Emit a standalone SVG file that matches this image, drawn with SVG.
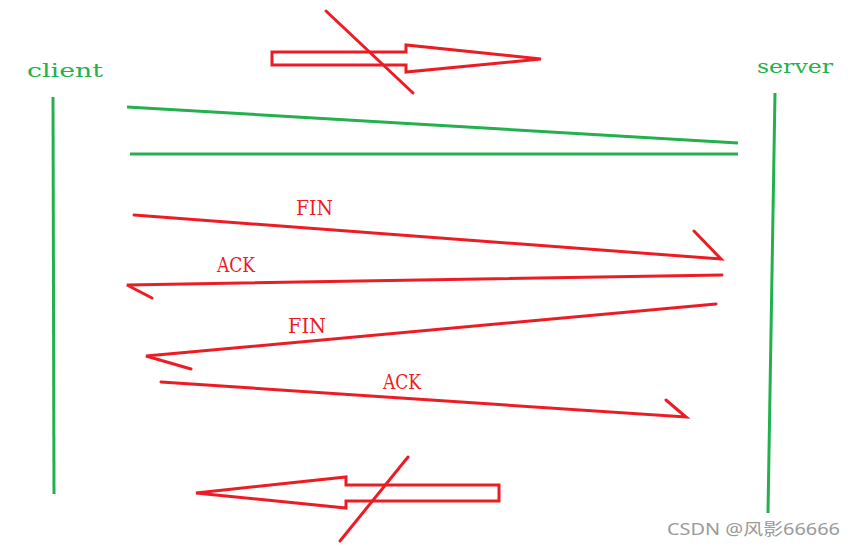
<svg xmlns="http://www.w3.org/2000/svg" width="856" height="547" viewBox="0 0 856 547">
<style>
.r{fill:none;stroke:#ED1C24;stroke-width:3;stroke-linecap:round;stroke-linejoin:miter}
.g{fill:none;stroke:#22B14C;stroke-width:3}
.lg{font-family:"DejaVu Serif",serif;font-size:19px;fill:#22B14C}
.lr{font-family:"DejaVu Serif",serif;font-size:20px;fill:#ED1C24}
.wm{font-family:"Noto Sans","Noto Sans CJK SC",sans-serif;font-size:16px;fill:#9a9a9a}
</style>
<rect width="856" height="547" fill="#fff"/>
<g id="client">
<text class="lg" x="27" y="77" textLength="76" lengthAdjust="spacingAndGlyphs">client</text>
<line class="g" x1="53" y1="97" x2="54" y2="494"/>
</g>
<g id="server">
<text class="lg" x="757" y="73" textLength="76" lengthAdjust="spacingAndGlyphs">server</text>
<line class="g" x1="775" y1="93" x2="768" y2="513"/>
</g>
<g id="connectors">
<line class="g" x1="127" y1="107" x2="738" y2="143"/>
<line class="g" x1="130" y1="154" x2="738" y2="154"/>
<g id="fin1">
<polyline class="r" points="134,215 721,259 694,231"/>
<text class="lr" x="296" y="215" textLength="37" lengthAdjust="spacingAndGlyphs">FIN</text>
</g>
<g id="ack1">
<polyline class="r" points="722,275 127,285 152,298"/>
<text class="lr" x="217" y="272" textLength="38" lengthAdjust="spacingAndGlyphs">ACK</text>
</g>
<g id="fin2">
<polyline class="r" points="716,304 146,356 191,369"/>
<text class="lr" x="288" y="333" textLength="38" lengthAdjust="spacingAndGlyphs">FIN</text>
</g>
<g id="ack2">
<polyline class="r" points="161,382 686,417 666,400"/>
<text class="lr" x="383" y="389" textLength="38" lengthAdjust="spacingAndGlyphs">ACK</text>
</g>
</g>
<g id="top-arrow">
<polygon class="r" points="272,52 406,52 406,45 541,59 406,72 406,65 272,65"/>
<line class="r" x1="326" y1="11" x2="413" y2="93"/>
</g>
<g id="bottom-arrow">
<polygon class="r" points="196,493 346,477 346,485 499,485 499,501 346,501 346,508"/>
<line class="r" x1="408" y1="457" x2="340" y2="541"/>
</g>
<text class="wm" x="667" y="535" textLength="173" lengthAdjust="spacingAndGlyphs">CSDN @风影66666</text>
</svg>
